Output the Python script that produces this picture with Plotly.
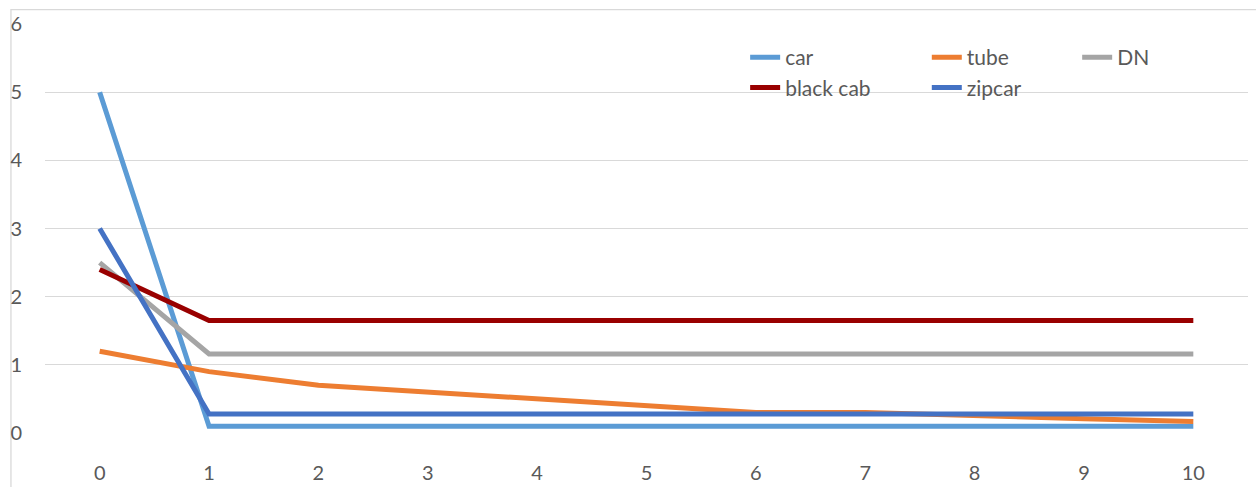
import plotly.graph_objects as go

# Category axis and series values
steps = list(range(11))
car = [5, 0.1, 0.1, 0.1, 0.1, 0.1, 0.1, 0.1, 0.1, 0.1, 0.1]
tube = [1.2, 0.9, 0.7, 0.6, 0.5, 0.4, 0.3, 0.3, 0.25, 0.21, 0.17]
dn = [2.5, 1.16, 1.16, 1.16, 1.16, 1.16, 1.16, 1.16, 1.16, 1.16, 1.16]
black_cab = [2.4, 1.65, 1.65, 1.65, 1.65, 1.65, 1.65, 1.65, 1.65, 1.65, 1.65]
zipcar = [3, 0.28, 0.28, 0.28, 0.28, 0.28, 0.28, 0.28, 0.28, 0.28, 0.28]
y_ticks = [0, 1, 2, 3, 4, 5, 6]

series = [
    ("car", car, "#5B9BD5", "legend"),
    ("tube", tube, "#ED7D31", "legend2"),
    ("DN", dn, "#A5A5A5", "legend3"),
    ("black cab", black_cab, "#990000", "legend"),
    ("zipcar", zipcar, "#4472C4", "legend2"),
]

FONT = "Lato, 'Open Sans', sans-serif"
TXT = "#595959"

fig = go.Figure()
for name, vals, color, lg in series:
    fig.add_trace(go.Scatter(
        x=steps, y=vals, name=name, mode="lines",
        line=dict(color=color, width=5),
        legend=lg,
    ))

legend_common = dict(
    orientation="v",
    bgcolor="rgba(0,0,0,0)",
    font=dict(family=FONT, size=21, color=TXT),
    xanchor="left", yanchor="top",
    y=0.968,
    itemwidth=30,
    tracegroupgap=0,
)

fig.update_layout(
    width=1256, height=487,
    margin=dict(l=45, r=8, t=24, b=54, autoexpand=False),
    paper_bgcolor="white", plot_bgcolor="white",
    font=dict(family=FONT, size=20, color=TXT),
    showlegend=True,
    legend=dict(x=0.582, **legend_common),
    legend2=dict(x=0.733, **legend_common),
    legend3=dict(x=0.858, **legend_common),
    xaxis=dict(
        range=[-0.5, 10.5], tickmode="array", tickvals=steps,
        ticktext=[str(s) for s in steps],
        showgrid=False, zeroline=False, showline=False,
        ticks="outside", ticklen=22, tickcolor="rgba(0,0,0,0)",
        tickfont=dict(family=FONT, size=20, color=TXT),
        automargin=False, fixedrange=True,
    ),
    yaxis=dict(
        range=[0, 6], tickmode="array", tickvals=y_ticks,
        ticktext=[str(v) for v in y_ticks],
        showgrid=True, gridcolor="#D9D9D9", gridwidth=1.3,
        zeroline=False, showline=False,
        ticks="outside", ticklen=18, tickcolor="rgba(0,0,0,0)",
        tickfont=dict(family=FONT, size=20, color=TXT),
        automargin=False, fixedrange=True,
    ),
    shapes=[dict(
        type="rect", xref="paper", yref="paper",
        x0=-0.0283, x1=1.03, y0=-0.3, y1=1.035,
        line=dict(color="#D9D9D9", width=1.3),
        fillcolor="rgba(0,0,0,0)", layer="below",
    )],
)

fig.write_html("out.html")
